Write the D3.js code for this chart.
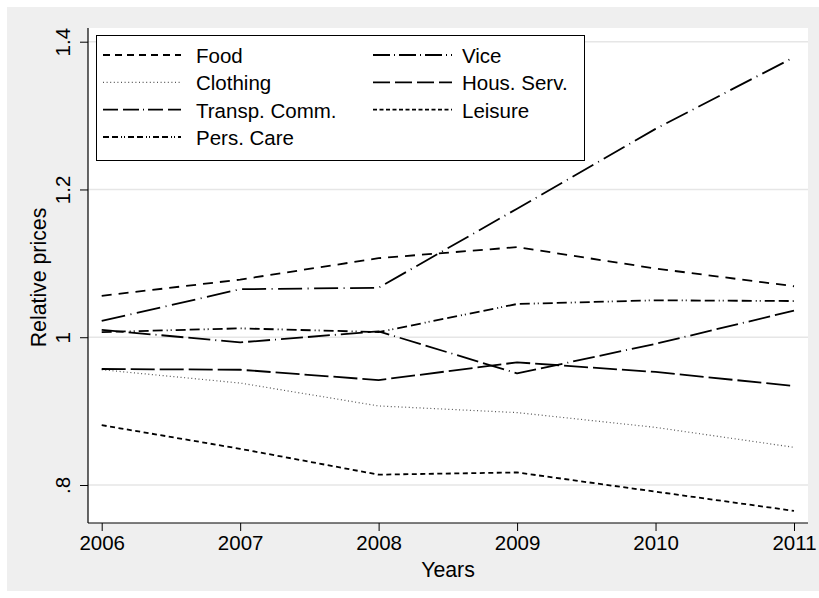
<!DOCTYPE html>
<html>
<head>
<meta charset="utf-8">
<script src="https://cdn.jsdelivr.net/npm/d3@7"></script>
<style>
  html, body { margin: 0; padding: 0; background: #ffffff; }
  svg { display: block; }
  text { font-family: "Liberation Sans", Arial, sans-serif; fill: #000; }
</style>
</head>
<body>
<svg id="chart" width="819" height="598"></svg>
<script>
// ---------------- data ----------------
const years = [2006, 2007, 2008, 2009, 2010, 2011];
const seriesNames = ["Food", "Vice", "Clothing", "Hous. Serv.", "Transp. Comm.", "Leisure", "Pers. Care"];
const food      = [1.056, 1.078, 1.107, 1.122, 1.093, 1.069];
const vice      = [1.022, 1.065, 1.067, 1.174, 1.282, 1.379];
const clothing  = [0.956, 0.938, 0.907, 0.898, 0.878, 0.851];
const housServ  = [0.957, 0.956, 0.942, 0.966, 0.953, 0.934];
const transp    = [1.010, 0.993, 1.008, 0.951, 0.991, 1.036];
const leisure   = [0.881, 0.849, 0.814, 0.817, 0.791, 0.765];
const persCare  = [1.007, 1.012, 1.007, 1.045, 1.050, 1.049];
const seriesValues = [food, vice, clothing, housServ, transp, leisure, persCare];
const yTicks = [0.8, 1.0, 1.2, 1.4];
const yTickLabels = [".8", "1", "1.2", "1.4"];
const xTickLabels = ["2006", "2007", "2008", "2009", "2010", "2011"];

// ---------------- styles ----------------
const plotDash = {
  "Food": "10,7",
  "Vice": "24,5.5,1,5.5",
  "Clothing": "1,2.6",
  "Hous. Serv.": "24,5",
  "Transp. Comm.": "22,5,22,5,1,5",
  "Leisure": "5,3.5",
  "Pers. Care": "10,4,10,4,1,3,1,4"
};
const legendDash = {
  "Food": "7,5",
  "Vice": "17,4,1,4",
  "Clothing": "1,2.6",
  "Hous. Serv.": "17,5",
  "Transp. Comm.": "15,5,16,4,1,4",
  "Leisure": "4,2.5",
  "Pers. Care": "6,3,6,3,1,2,1,3"
};
const strokeColor = name => name === "Clothing" ? "#555" : "#000";
const strokeW = name => name === "Clothing" ? 1.2 : 1.8;

// ---------------- layout ----------------
const svg = d3.select("#chart");
const plot = { left: 88, right: 808, top: 28, bottom: 523 };

svg.append("rect").attr("x", 7).attr("y", 7).attr("width", 812).attr("height", 584).attr("fill", "#efefef");
svg.append("rect").attr("x", plot.left).attr("y", plot.top)
  .attr("width", plot.right - plot.left).attr("height", plot.bottom - plot.top).attr("fill", "#ffffff");

const x = d3.scaleLinear().domain([2006, 2011]).range([101.7, 794]);
const y = d3.scaleLinear().domain([0.8, 1.4]).range([485, 41.7]);

// grid
svg.append("g").selectAll("line").data(yTicks).join("line")
  .attr("x1", plot.left).attr("x2", plot.right)
  .attr("y1", d => y(d)).attr("y2", d => y(d))
  .attr("stroke", "#e6e6e6").attr("stroke-width", 1.5);

// lines
const line = d3.line().x((d, i) => x(years[i])).y(d => y(d));
seriesNames.forEach((name, k) => {
  svg.append("path").datum(seriesValues[k])
    .attr("d", line)
    .attr("fill", "none")
    .attr("stroke", strokeColor(name))
    .attr("stroke-width", strokeW(name))
    .attr("stroke-dasharray", plotDash[name])
    .attr("stroke-linejoin", "round");
});

// axes
const yAxis = d3.axisLeft(y).tickValues(yTicks)
  .tickFormat((d, i) => yTickLabels[i]).tickSize(8).tickSizeOuter(0).tickPadding(10);
const gy = svg.append("g").attr("transform", `translate(${plot.left},0)`).call(yAxis);
gy.select(".domain").remove();
gy.selectAll(".tick line").attr("stroke", "#000");
gy.selectAll(".tick text")
  .attr("x", null).attr("dy", null)
  .attr("text-anchor", "middle")
  .attr("transform", "translate(-18,0) rotate(-90)")
  .style("font-size", "20.5px")
  .style("font-family", "'Liberation Sans', Arial, sans-serif");

const xAxis = d3.axisBottom(x).tickValues(years)
  .tickFormat((d, i) => xTickLabels[i]).tickSize(8).tickSizeOuter(0).tickPadding(6);
const gx = svg.append("g").attr("transform", `translate(0,${plot.bottom})`).call(xAxis);
gx.select(".domain").remove();
gx.selectAll(".tick line").attr("stroke", "#000");
gx.selectAll(".tick text")
  .attr("dy", null).attr("y", 27)
  .style("font-size", "20.5px")
  .style("font-family", "'Liberation Sans', Arial, sans-serif");

svg.append("line").attr("x1", plot.left).attr("x2", plot.left)
  .attr("y1", plot.top).attr("y2", plot.bottom).attr("stroke", "#000").attr("stroke-width", 1.2);
svg.append("line").attr("x1", plot.left).attr("x2", plot.right)
  .attr("y1", plot.bottom).attr("y2", plot.bottom).attr("stroke", "#000").attr("stroke-width", 1.2);

// axis titles
svg.append("text").attr("x", (plot.left + plot.right) / 2).attr("y", 577)
  .attr("text-anchor", "middle").style("font-size", "21.3px").text("Years");
svg.append("text").attr("transform", `translate(46,${(plot.top + plot.bottom) / 2 + 2}) rotate(-90)`)
  .attr("text-anchor", "middle").style("font-size", "21.3px").text("Relative prices");

// legend
const lg = svg.append("g");
lg.append("rect").attr("x", 96.5).attr("y", 35.5).attr("width", 488).attr("height", 125)
  .attr("fill", "#fff").attr("stroke", "#000").attr("stroke-width", 1);
const legendOrder = ["Food", "Vice", "Clothing", "Hous. Serv.", "Transp. Comm.", "Leisure", "Pers. Care"];
const colX = [{ s: 103, e: 181, t: 196 }, { s: 373, e: 452, t: 462 }];
const rowY = [55, 82.3, 109.6, 137];
legendOrder.forEach((name, i) => {
  const c = colX[i % 2], r = rowY[Math.floor(i / 2)];
  lg.append("line").attr("x1", c.s).attr("x2", c.e).attr("y1", r).attr("y2", r)
    .attr("stroke", strokeColor(name)).attr("stroke-width", strokeW(name))
    .attr("stroke-dasharray", legendDash[name]);
  lg.append("text").attr("x", c.t).attr("y", r + 8)
    .style("font-size", "20.5px").text(name);
});
</script>
</body>
</html>
